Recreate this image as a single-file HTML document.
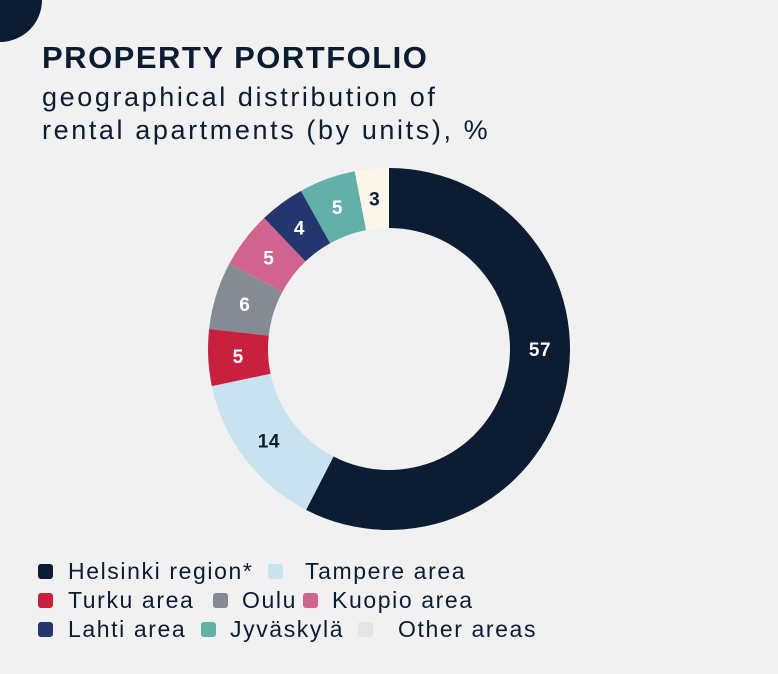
<!DOCTYPE html>
<html><head><meta charset="utf-8"><style>
body{margin:0;width:778px;height:674px;background:#f1f1f1;overflow:hidden;font-family:"Liberation Sans",sans-serif;color:#0b1c33}
.t{position:absolute;left:42px;white-space:nowrap}
.lg{position:absolute;font-size:23px;letter-spacing:1.6px;white-space:nowrap;line-height:22px}
.sq{position:absolute;width:15px;height:15px;border-radius:3px}
</style></head><body>
<svg style="position:absolute;left:0;top:0" width="50" height="50"><circle cx="0" cy="0" r="42" fill="#0b1c33"/></svg>
<div class="t" style="top:40px;font-size:31px;font-weight:bold;letter-spacing:1.5px">PROPERTY PORTFOLIO</div>
<div class="t" style="top:81px;font-size:27px;letter-spacing:2.6px;line-height:33px">geographical distribution of<br>rental apartments (by units), %</div>
<svg id="chart" style="position:absolute;left:0;top:0" width="778" height="674"></svg>
<div id="legend"></div>
<script>
const categories=["Helsinki region*","Tampere area","Turku area","Oulu","Kuopio area","Lahti area","Jyväskylä","Other areas"];
const values=[57,14,5,6,5,4,5,3];
const labels=["57","14","5","6","5","4","5","3"];
const colors=["#0b1c33","#c9e2ef","#c8203f","#848b92","#d0648e","#25366e","#63b0a8","#fbf5ea"];
const legendColors=["#0b1c33","#c9e2ef","#c8203f","#848b92","#d0648e","#25366e","#63b0a8","#e4e6e6"];
const cx=389,cy=349,R=181,r=121;
const total=values.reduce((a,b)=>a+b,0);
const svg=document.getElementById('chart');
const NS="http://www.w3.org/2000/svg";
function pt(a,rad){return [cx+rad*Math.sin(a),cy-rad*Math.cos(a)];}
let acc=0;
values.forEach((v,i)=>{
 const a0=acc/total*2*Math.PI;acc+=v;const a1=acc/total*2*Math.PI;
 const [x0,y0]=pt(a0,R),[x1,y1]=pt(a1,R),[x2,y2]=pt(a1,r),[x3,y3]=pt(a0,r);
 const lg=(a1-a0)>Math.PI?1:0;
 const p=document.createElementNS(NS,'path');
 p.setAttribute('d',`M${x0},${y0}A${R},${R} 0 ${lg} 1 ${x1},${y1}L${x2},${y2}A${r},${r} 0 ${lg} 0 ${x3},${y3}Z`);
 p.setAttribute('fill',colors[i]);
 
 
 svg.appendChild(p);
 let am=(a0+a1)/2;
 if(a1-a0>Math.PI) am=Math.min(am,Math.PI/2);
 const [tx,ty]=pt(am,(R+r)/2);
 const t=document.createElementNS(NS,'text');
 t.setAttribute('x',tx);t.setAttribute('y',ty+7);
 t.setAttribute('text-anchor','middle');t.setAttribute('font-size','19');t.setAttribute('font-weight','bold');
 t.setAttribute('letter-spacing','0.5');
 t.setAttribute('font-family','Liberation Sans, sans-serif');
 t.setAttribute('fill',(i===1||i===7)?'#0b1c33':'#ffffff');
 t.textContent=labels[i];
 
 
 svg.appendChild(t);
});
const pos=[[38,68,563],[268,305,563],[38,68,592],[213,242,592],[303,332,592],[38,68,621],[201,230,621],[358,398,621]];
const lgd=document.getElementById('legend');
categories.forEach((c,i)=>{
 const s=document.createElement('div');s.className='sq';
 s.style.left=pos[i][0]+'px';s.style.top=(pos[i][2]+1)+'px';s.style.background=legendColors[i];
 
 
 lgd.appendChild(s);
 const d=document.createElement('div');d.className='lg';
 d.style.left=pos[i][1]+'px';d.style.top=(pos[i][2]-3)+'px';d.textContent=c;
 
 
 lgd.appendChild(d);
});
</script>
</body></html>
